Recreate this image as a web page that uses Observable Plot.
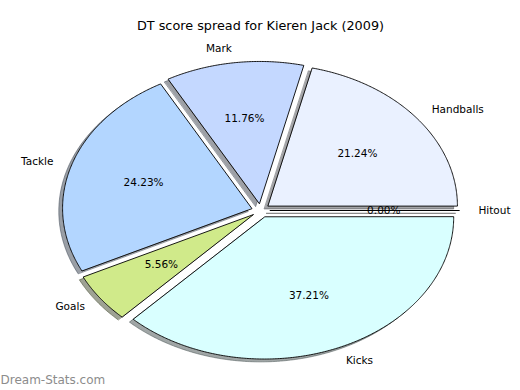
<!DOCTYPE html>
<html><head><meta charset="utf-8">
<script src="https://cdn.jsdelivr.net/npm/d3@7"></script>
<script src="https://cdn.jsdelivr.net/npm/@observablehq/plot@0.6"></script>
<style>html,body{margin:0;padding:0;background:#fff;overflow:hidden} svg{display:block}</style>
</head><body><div id="chart"></div>
<script>
// ---- data ----
const categories = ["Hitout", "Handballs", "Mark", "Tackle", "Goals", "Kicks"];
const percents   = [0.00, 21.24, 11.76, 24.23, 5.56, 37.21];
const colors     = ["#ffffff", "#EAF1FF", "#C4D8FF", "#B3D6FF", "#D0EA8A", "#D9FFFF"];
const titleText  = "DT score spread for Kieren Jack (2009)";
const watermark  = "Dream-Stats.com";

// ---- pie settings (matplotlib-like) ----
const explode = 0.05, labelDist = 1.1, pctDist = 0.6, shadowOff = -0.02;
const total = d3.sum(percents);

let acc = 0;
const slices = categories.map((name, i) => {
  const t1 = acc / total * 2 * Math.PI;
  acc += percents[i];
  const t2 = acc / total * 2 * Math.PI;
  const m = (t1 + t2) / 2;
  return {name, value: percents[i], color: colors[i], t1, t2, m,
          ox: explode * Math.cos(m), oy: explode * Math.sin(m)};
});

function shade(c) {
  const r = d3.rgb(c);
  return d3.rgb(r.r * 0.3, r.g * 0.3, r.b * 0.3).formatHex();
}

// wedge outlines derived from the slice angles
const outline = [];
for (const s of slices) {
  outline.push({name: s.name, color: s.color, x: s.ox, y: s.oy});
  const steps = Math.max(1, Math.ceil((s.t2 - s.t1) / (Math.PI / 360)));
  for (let k = 0; k <= steps; k++) {
    const t = s.t1 + (s.t2 - s.t1) * k / steps;
    outline.push({name: s.name, color: s.color, x: s.ox + Math.cos(t), y: s.oy + Math.sin(t)});
  }
}
const shadowPts = outline.map(p => ({...p, x: p.x + shadowOff, y: p.y + shadowOff, color: shade(p.color)}));

const labels = slices.map(s => ({
  name: s.name,
  x: s.ox + labelDist * Math.cos(s.m), y: s.oy + labelDist * Math.sin(s.m),
  px: s.ox + pctDist * Math.cos(s.m), py: s.oy + pctDist * Math.sin(s.m),
  pct: s.value.toFixed(2) + "%"
}));

const chart = Plot.plot({
  width: 520, height: 390,
  marginTop: 0, marginBottom: 0, marginLeft: 0, marginRight: 0,
  x: {domain: [-1, 1], range: [71.1, 449.5], axis: null},
  y: {domain: [-1, 1], range: [352, 68], axis: null},
  color: {type: "identity"},
  style: {fontFamily: "DejaVu Sans, sans-serif", fontSize: "10.5px", background: "#fff", color: "#000", overflow: "visible"},
  marks: [
    Plot.line(shadowPts, {x: "x", y: "y", z: "name", fill: "color", fillOpacity: 0.5,
      stroke: "color", strokeOpacity: 0.5, strokeWidth: 1, curve: "linear-closed"}),
    Plot.line(outline, {x: "x", y: "y", z: "name", fill: "color",
      stroke: "#000", strokeWidth: 0.9, curve: "linear-closed", strokeLinejoin: "miter"}),
    Plot.text(labels.filter(d => d.x > 0), {x: "x", y: "y", text: "name", textAnchor: "start", fill: "#000"}),
    Plot.text(labels.filter(d => d.x <= 0), {x: "x", y: "y", text: "name", textAnchor: "end", fill: "#000"}),
    Plot.text(labels, {x: "px", y: "py", text: "pct", fill: "#000"}),
    Plot.text([titleText], {frameAnchor: "top", lineAnchor: "middle", dy: 25, text: d => d, fontSize: 12.8, fill: "#000"}),
    Plot.text([watermark], {frameAnchor: "bottom-left", lineAnchor: "middle", dy: -10, dx: 0, text: d => d, textAnchor: "start",
      fontSize: 12, fontWeight: "normal", fill: "#8c8c8c"})
  ]
});
document.getElementById("chart").appendChild(chart);
</script>
</body></html>
